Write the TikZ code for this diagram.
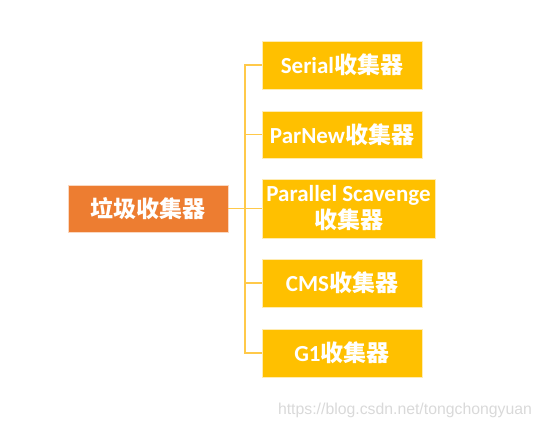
\documentclass[tikz,border=0pt]{standalone}
\usepackage{fontspec}
\setmainfont{Carlito}
\newfontfamily\cjk{Noto Sans CJK SC}
\newfontfamily\wm{Liberation Sans}
\definecolor{rootc}{HTML}{ED7D31}
\definecolor{leafc}{HTML}{FFC000}
\definecolor{linec}{HTML}{FFC94A}
\definecolor{wmc}{HTML}{D9D9D9}
\begin{document}
\begin{tikzpicture}[x=1pt,y=-1pt,
  box/.style={draw=white!70!#1,line width=0.6pt,fill=#1,text=white,inner sep=0pt,align=center,
    font=\fontsize{23}{28}\selectfont\bfseries},
  conn/.style={draw=linec,line width=1.1pt}]
\useasboundingbox (0,0) rectangle (541,428);
\node[box=rootc,minimum width=160,minimum height=47] (root) at (148,208.5) {{\cjk 垃圾收集器}};
\node[box=leafc,minimum width=160,minimum height=48] (serial) at (342,65) {Serial{\cjk 收集器}};
\node[box=leafc,minimum width=160,minimum height=47] (parnew) at (342,134.5) {ParNew{\cjk 收集器}};
\node[box=leafc,minimum width=173,minimum height=59] (ps) at (348.5,208.5) {Parallel Scavenge\\[-1pt]{\cjk 收集器}};
\node[box=leafc,minimum width=160,minimum height=48] (cms) at (342,283) {CMS{\cjk 收集器}};
\node[box=leafc,minimum width=160,minimum height=48] (g1) at (342,353) {G1{\cjk 收集器}};
\coordinate (j) at (245,208.5);
\draw[conn] (root.east) -- (j);
\foreach \n in {serial,parnew,ps,cms,g1}{\draw[conn] (j) |- (\n.west);}
\node[text=wmc,font=\wm\fontsize{15.8}{18}\selectfont,inner sep=0pt] (wmk) at (405,410) {https://blog.csdn.net/tongchongyuan};
\end{tikzpicture}
\end{document}
